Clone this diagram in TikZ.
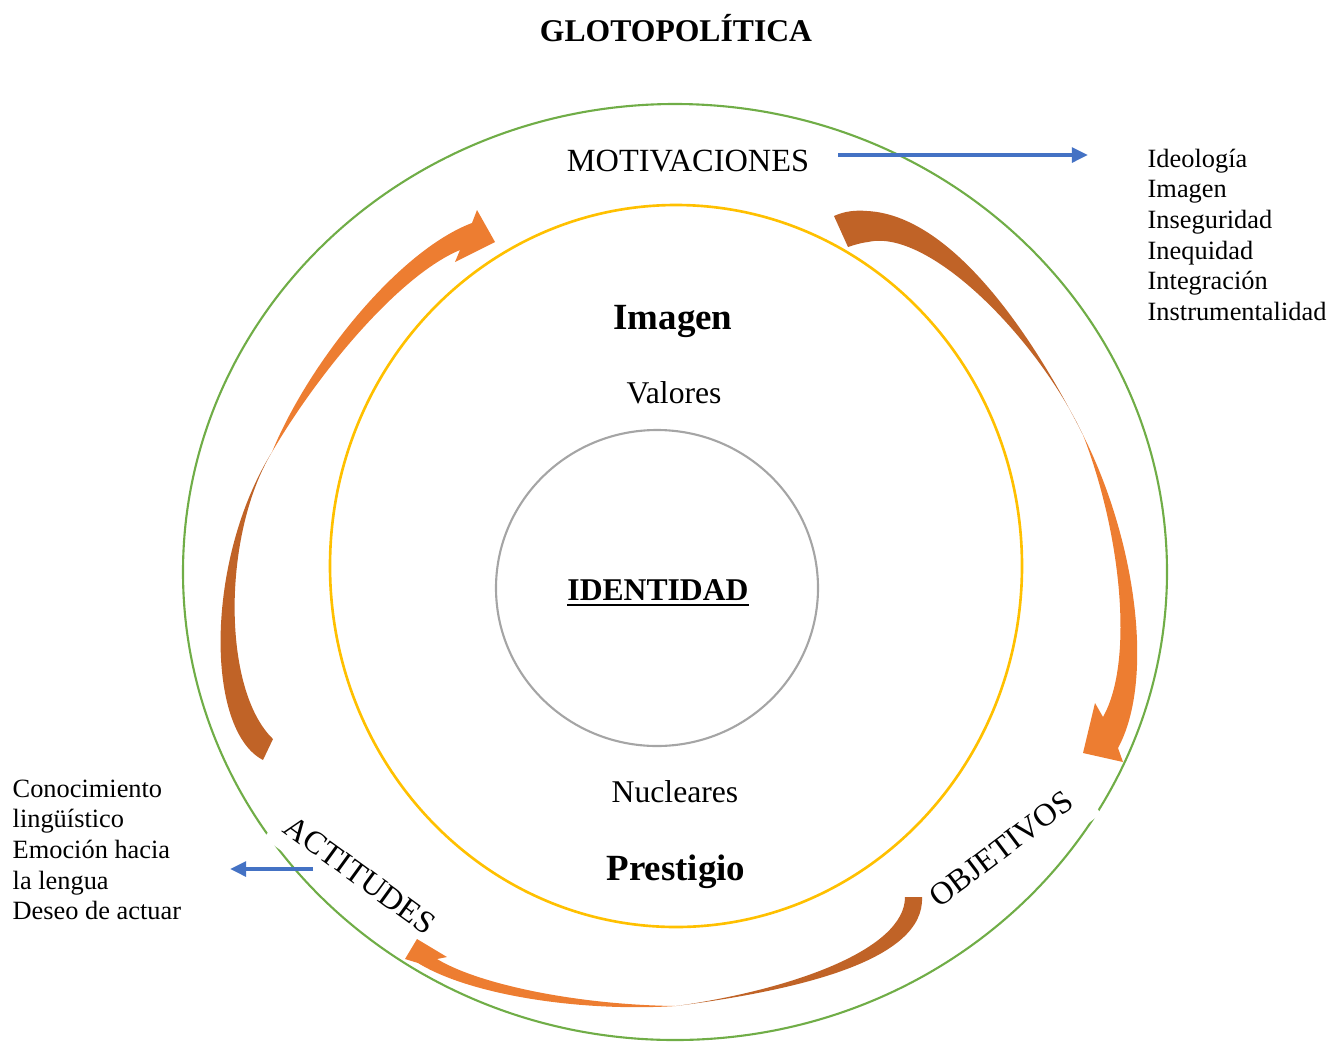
\documentclass[tikz,border=0pt]{standalone}
\usepackage{fontspec}
\setmainfont{Liberation Serif}
\usetikzlibrary{arrows.meta}
\definecolor{cgreen}{RGB}{112,173,71}
\definecolor{cyellow}{RGB}{255,192,0}
\definecolor{cgray}{RGB}{165,165,165}
\definecolor{cblue}{RGB}{68,114,196}
\definecolor{corange}{RGB}{237,125,49}
\definecolor{cbrown}{RGB}{192,99,39}
\begin{document}
\begin{tikzpicture}[x=0.01cm,y=-0.01cm,
  ring/.style={line width=0.6pt},
  txt/.style={inner sep=0pt,font=\fontsize{9}{10}\selectfont},
  big/.style={inner sep=0pt,font=\fontsize{10.5}{12}\selectfont\bfseries},
  lst/.style={inner sep=0pt,align=left,font=\fontsize{7.5}{8.72}\selectfont},
  lab/.style={fill=white,font=\fontsize{9.1}{10}\selectfont},
  bluearrow/.style={draw=cblue,line width=1.05pt,-{Triangle[length=4.6pt,width=4.2pt]}}]
\useasboundingbox (0,0) rectangle (1330,1042);
% rings
\draw[ring,cgreen] (675,572) ellipse [x radius=492, y radius=468];
\draw[ring,cyellow,line width=0.75pt] (676,566) ellipse [x radius=346, y radius=361];
\draw[ring,cgray] (657,588) ellipse [x radius=161, y radius=158];
% texts
\node[inner sep=0pt,font=\fontsize{9}{11}\selectfont\bfseries,anchor=base] (title) at (676,41) {GLOTOPOLÍTICA};
\node[inner sep=0pt,font=\fontsize{9.2}{10}\selectfont,anchor=base] (mot) at (688,171) {MOTIVACIONES};
\node[big,anchor=base] (imagen) at (673,329) {Imagen};
\node[txt,anchor=base] (valores) at (674,403) {Valores};
\node[inner sep=0pt,font=\fontsize{9}{11}\selectfont\bfseries,anchor=base] (ident) at (658,600) {\underline{IDENTIDAD}};
\node[txt,anchor=base] (nucl) at (675,802) {Nucleares};
\node[big,anchor=base] (prest) at (676,880) {Prestigio};
\node[lst,anchor=north west] (motlist) at (1147,148) {Ideología\\Imagen\\Inseguridad\\Inequidad\\Integración\\Instrumentalidad};
\node[lst,anchor=north west] (actlist) at (12,779) {Conocimiento\\lingüístico\\Emoción hacia\\la lengua\\Deseo de actuar};
\node[lab,rotate=-36,inner xsep=3pt,inner ysep=4.5pt] (act) at (360,875) {ACTITUDES};
\node[lab,rotate=37,inner xsep=4.5pt,inner ysep=6pt] (obj) at (1001,849) {OBJETIVOS};
% curved arrow 1: motivaciones -> objetivos
\fill[cbrown] (848,247) -- (834,216) .. controls (845,211) and (856,210) .. (867,211)
  .. controls (950,215) and (1030,330) .. (1083,435)
  .. controls (1036,336) and (928,228) .. (868,242)
  .. controls (860,243) and (854,245) .. (848,247) -- cycle;
\fill[corange] (1083,435) .. controls (1136,540) and (1155,680) .. (1118,748)
  -- (1123,762) -- (1083,753) -- (1095,703) -- (1103,717)
  .. controls (1135,660) and (1120,530) .. (1083,435) -- cycle;
% curved arrow 2: objetivos -> actitudes
\fill[cbrown] (905,897) -- (922,897) .. controls (925,960) and (800,990) .. (676,1006)
  .. controls (790,990) and (905,950) .. (905,897) -- cycle;
\fill[corange] (676,1006) .. controls (580,1012) and (470,995) .. (418,963)
  -- (405,959) -- (417,939) -- (447,957) -- (437,959)
  .. controls (480,985) and (580,1005) .. (676,1006) -- cycle;
% curved arrow 3: actitudes -> motivaciones
\fill[cbrown] (273,739) -- (263,760) .. controls (205,730) and (205,560) .. (272,452)
  .. controls (222,535) and (222,690) .. (273,739) -- cycle;
\fill[corange] (272,452) .. controls (310,360) and (400,250) .. (472,223)
  -- (477,210) -- (495,242) -- (455,262) -- (460,250)
  .. controls (400,275) and (320,370) .. (272,452) -- cycle;
% blue connectors
\coordinate (m1) at (838,155);
\coordinate (m2) at (1088,155);
\coordinate (a1) at (313,869);
\coordinate (a2) at (230,869);
\draw[bluearrow] (m1) -- (m2);
\draw[bluearrow] (a1) -- (a2);
\end{tikzpicture}
\end{document}
